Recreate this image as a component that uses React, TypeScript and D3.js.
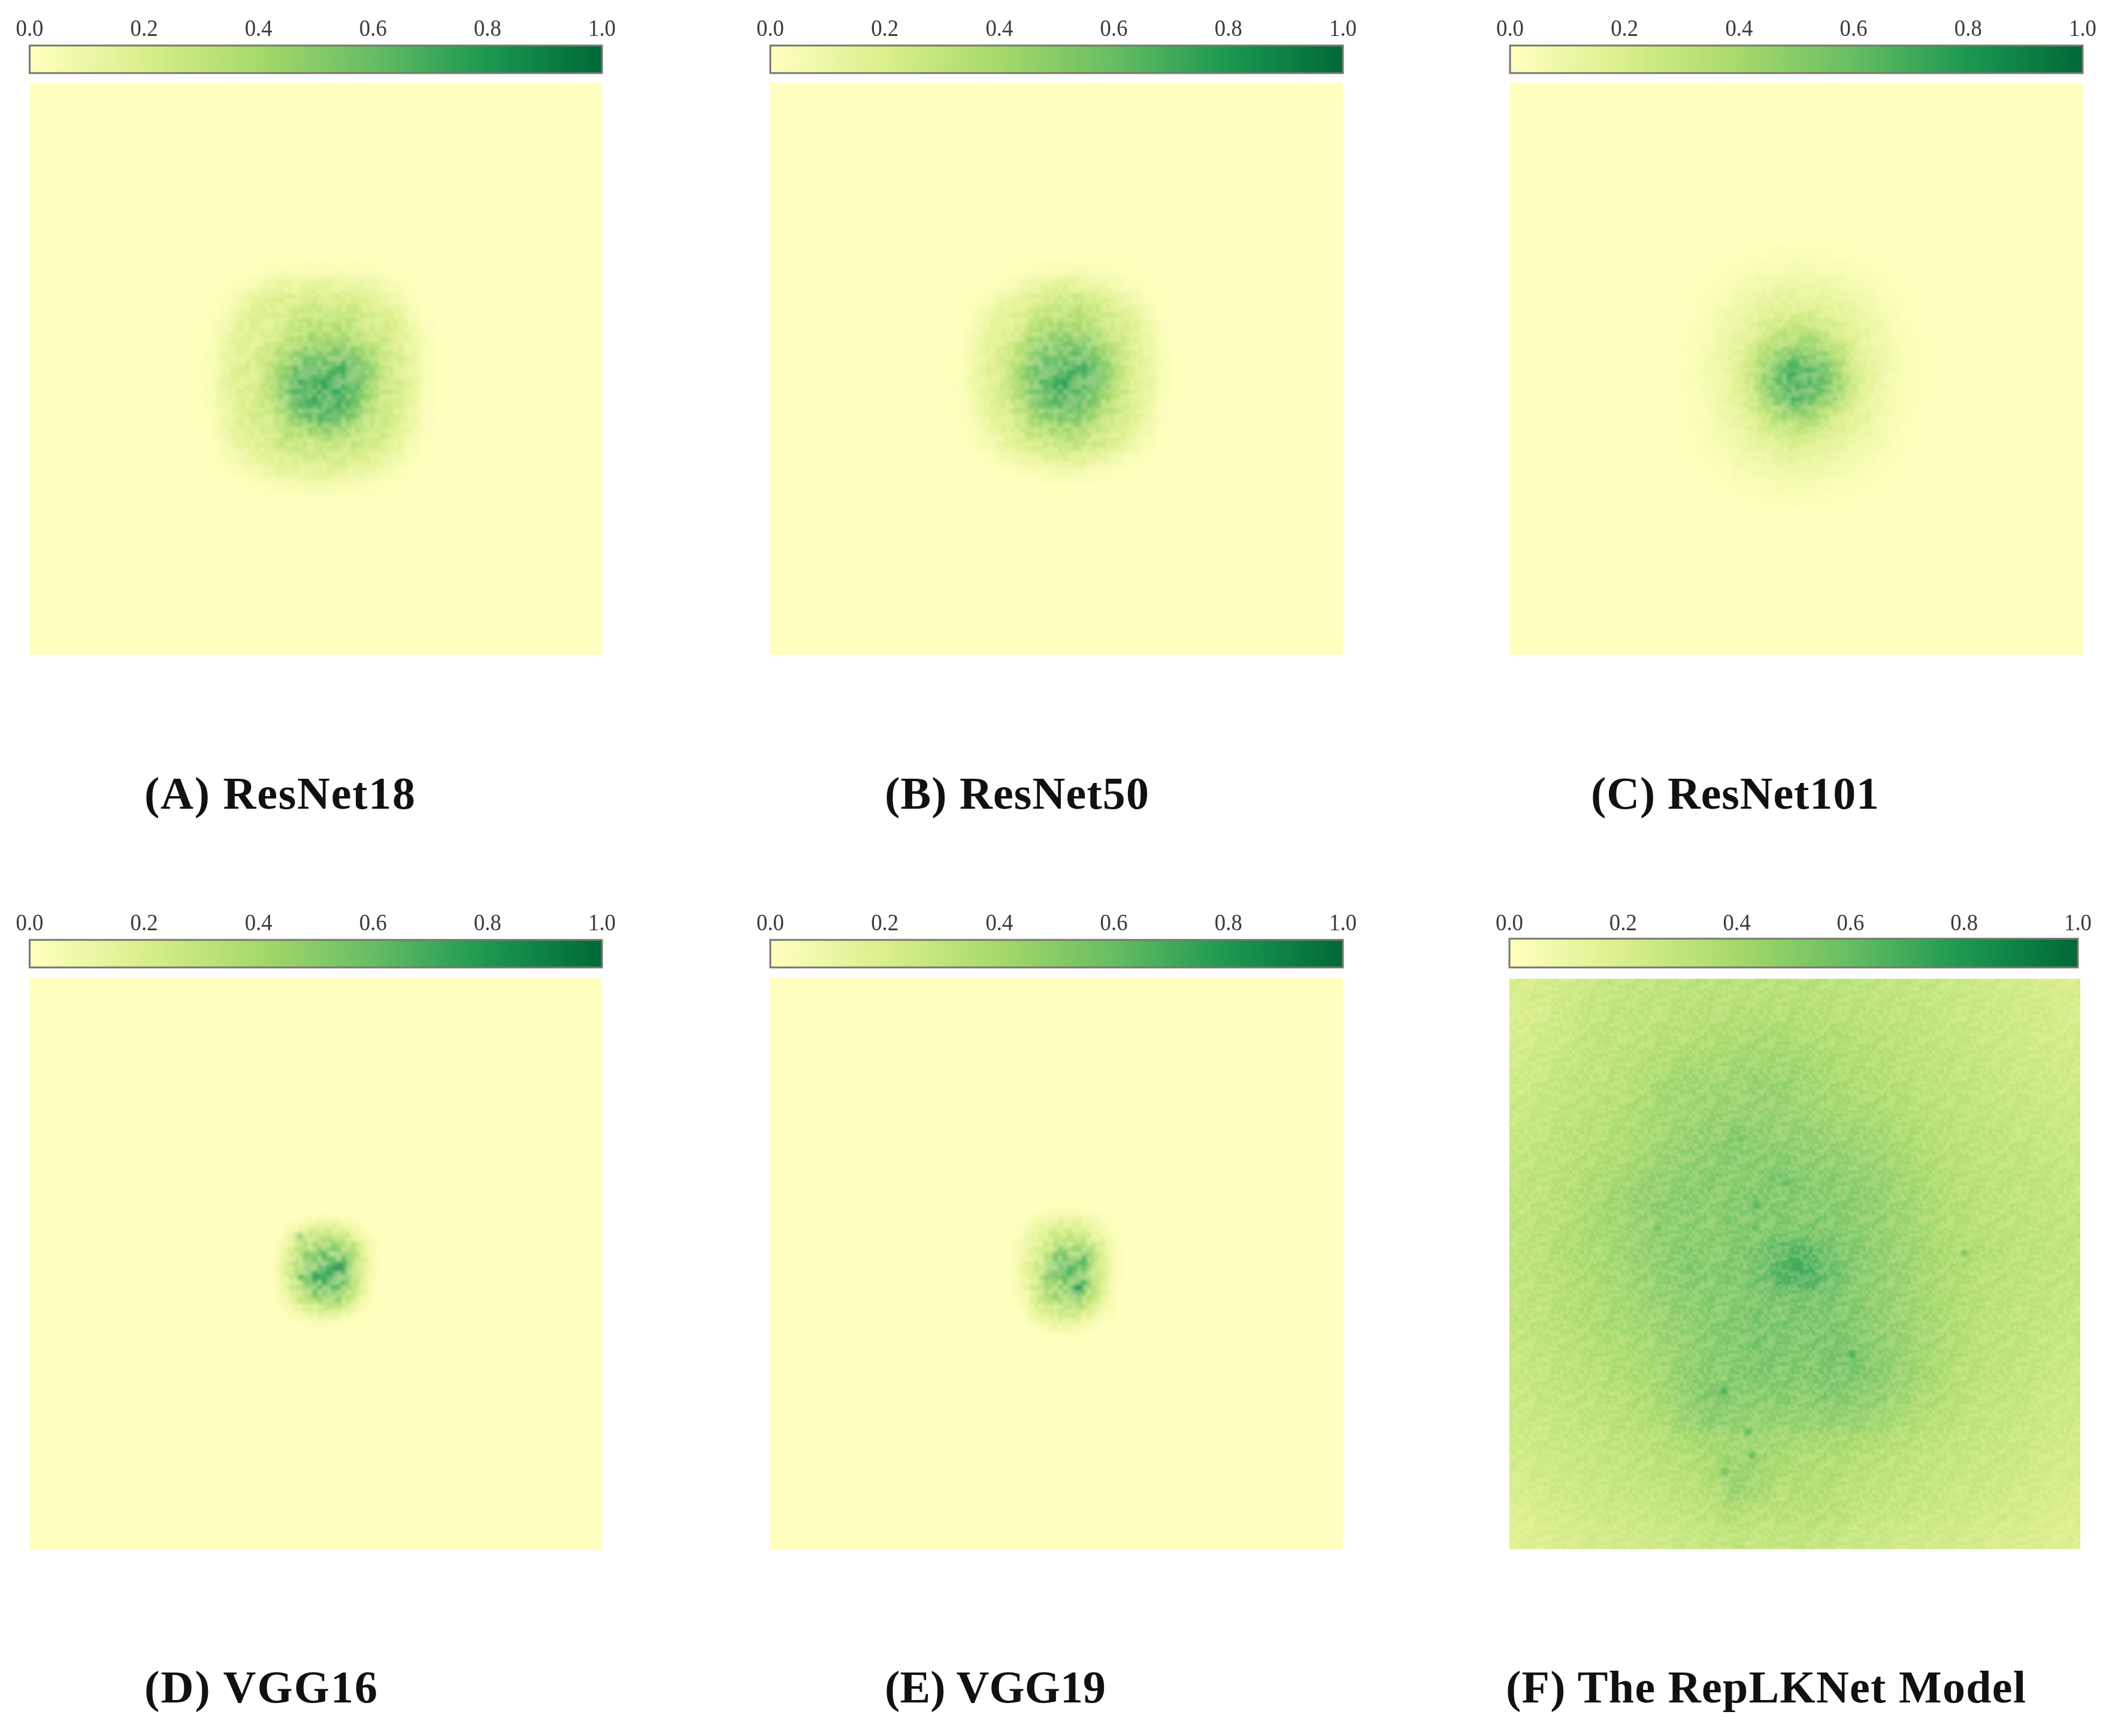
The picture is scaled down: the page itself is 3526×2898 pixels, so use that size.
import React from "react";
import * as d3 from "d3";

// ---------- data (values in percent of the colour scale) ----------
const colorDomain = [0, 0.2, 0.4, 0.6, 0.8, 1];
const colorRange = ["#ffffbf", "#d9ef8b", "#a6d96a", "#66bd63", "#1a9850", "#006837"];
const tickValues = [0, 0.2, 0.4, 0.6, 0.8, 1];

const resNet18 = [
  [0,0,0,1,2,3,3,4,4,3,3,2,1,0,0,0],
  [0,0,2,5,9,11,10,13,12,11,12,9,6,3,1,0],
  [0,2,6,12,15,18,16,20,18,19,17,15,12,7,2,0],
  [1,4,11,16,19,17,22,24,26,22,25,20,18,13,5,1],
  [2,7,14,18,16,22,25,30,28,32,26,23,19,17,8,2],
  [2,9,17,15,21,24,32,38,36,40,34,27,22,16,10,3],
  [3,10,15,19,22,34,42,48,46,50,44,36,25,20,12,3],
  [3,11,18,17,27,38,52,58,54,58,50,42,24,18,12,3],
  [3,12,16,20,28,42,58,54,62,56,54,38,26,21,13,3],
  [3,10,18,18,26,38,54,60,56,62,48,36,22,19,11,3],
  [2,9,15,20,24,34,44,52,60,50,46,30,24,17,10,2],
  [2,8,16,18,22,28,32,38,42,38,30,26,21,16,8,2],
  [1,6,12,16,18,24,26,24,28,24,26,20,18,13,5,1],
  [1,3,7,12,14,17,20,22,20,21,18,16,12,8,3,0],
  [0,1,3,6,9,12,13,15,14,13,11,9,6,3,1,0],
  [0,0,0,1,2,3,4,5,5,4,3,2,1,0,0,0],
];
const resNet50 = [
  [0,0,0,0,1,2,4,5,4,3,2,1,0,0,0],
  [0,0,1,3,6,10,12,14,13,11,8,5,2,0,0],
  [0,1,4,9,13,17,20,22,24,18,16,11,7,2,0],
  [0,3,8,14,17,22,26,28,32,24,22,18,12,5,1],
  [1,5,12,16,20,28,34,36,34,32,26,20,15,8,2],
  [1,7,14,18,26,36,42,46,44,40,32,22,16,10,2],
  [2,8,15,20,30,42,50,48,54,48,38,26,17,11,3],
  [2,9,16,21,34,50,54,60,56,58,42,26,18,12,3],
  [2,9,15,22,36,48,56,62,54,50,40,27,17,11,3],
  [2,8,14,20,32,44,52,56,52,46,34,24,16,10,2],
  [1,6,13,18,26,36,44,50,46,38,30,22,15,8,2],
  [1,4,10,16,22,28,32,34,36,28,24,18,12,6,1],
  [0,2,6,12,16,20,24,26,28,22,19,14,8,3,0],
  [0,0,2,5,9,12,15,17,16,13,10,6,3,1,0],
  [0,0,0,1,2,4,5,6,5,4,2,1,0,0,0],
];
const resNet101 = [
  [0,0,0,0,0,1,1,2,2,2,2,1,1,0,0,0,0,0],
  [0,0,0,1,2,3,4,4,5,5,4,4,3,2,1,0,0,0],
  [0,0,1,2,4,5,7,8,8,9,8,7,5,4,2,1,0,0],
  [0,1,2,4,6,8,10,12,13,12,11,10,8,6,4,2,1,0],
  [0,1,3,6,8,11,14,16,17,18,15,13,11,8,5,3,1,0],
  [0,2,4,7,10,14,19,24,26,24,21,18,13,10,7,3,2,0],
  [1,2,5,8,12,18,24,30,34,36,30,24,16,11,8,4,2,1],
  [1,3,5,9,14,22,34,40,46,42,40,30,20,12,8,5,2,1],
  [1,3,6,9,15,24,38,50,60,54,48,36,22,13,9,5,2,1],
  [1,3,5,9,14,24,40,52,58,60,50,38,24,14,9,5,2,1],
  [1,2,5,8,14,22,36,48,56,50,44,36,20,12,8,4,2,1],
  [1,2,4,8,12,19,28,36,42,40,32,24,16,11,7,4,2,0],
  [0,2,4,6,10,15,20,26,30,28,24,17,13,10,6,3,1,0],
  [0,1,3,5,8,11,15,18,19,18,15,12,10,7,5,2,1,0],
  [0,1,2,4,6,8,10,12,14,12,10,9,7,5,3,2,0,0],
  [0,0,1,2,4,5,7,8,9,9,7,6,5,3,2,1,0,0],
  [0,0,0,1,2,3,4,5,5,5,4,3,2,2,1,0,0,0],
  [0,0,0,0,1,1,2,2,3,2,2,1,1,0,0,0,0,0],
];
const vgg16 = [
  [0,0,0,0,0,1,1,1,1,1,1,0,0,0,0],
  [0,0,0,1,3,5,7,8,8,7,5,3,1,0,0],
  [0,0,2,5,9,14,18,16,20,16,12,8,4,1,0],
  [0,1,4,10,40,24,22,28,24,26,20,15,8,3,0],
  [0,2,7,16,26,28,38,30,42,34,30,24,13,5,1],
  [0,3,10,20,28,42,34,50,38,48,36,28,15,6,1],
  [1,4,12,24,34,38,52,44,56,42,50,26,17,7,1],
  [1,4,13,22,30,50,46,60,52,72,44,32,16,7,1],
  [1,4,12,26,48,40,62,52,58,46,52,30,15,6,1],
  [0,3,10,20,28,46,40,54,46,50,38,26,13,5,1],
  [0,3,8,22,24,32,48,38,50,36,32,22,11,4,0],
  [0,2,6,12,22,26,30,40,34,38,24,15,8,3,0],
  [0,1,3,7,12,18,22,26,28,20,16,9,4,1,0],
  [0,0,1,3,5,8,10,12,11,8,5,3,1,0,0],
  [0,0,0,0,1,2,3,3,3,2,1,0,0,0,0],
];
const vgg19 = [
  [0,0,0,0,1,2,3,3,3,2,1,0,0,0,0],
  [0,0,1,3,5,7,9,10,10,9,7,5,3,1,0],
  [0,1,3,6,10,14,16,15,18,15,12,9,5,2,0],
  [0,2,5,9,14,18,24,20,26,22,18,14,8,3,1],
  [1,3,7,12,18,22,30,26,24,30,24,17,11,5,1],
  [1,4,9,14,18,26,36,44,34,40,38,21,13,6,2],
  [1,5,10,16,22,28,50,42,38,52,44,24,15,7,2],
  [1,5,11,18,26,40,46,54,48,42,46,28,16,7,2],
  [1,5,11,19,24,50,42,46,52,44,38,30,15,7,2],
  [1,5,10,16,28,36,34,44,38,58,44,24,16,6,2],
  [1,4,9,20,22,38,30,40,50,62,34,26,13,6,1],
  [1,3,7,14,26,30,36,30,44,38,28,20,14,5,1],
  [0,2,5,12,18,24,26,34,24,30,22,16,9,4,0],
  [0,1,4,8,14,16,20,22,24,18,15,10,5,2,0],
  [0,0,2,5,8,11,13,14,14,12,8,5,3,1,0],
  [0,0,0,1,3,5,6,7,7,5,3,1,0,0,0],
];
const repLKNet = [
  [20,21,23,25,27,28,29,30,31,31,31,31,32,31,30,29,28,27,26,25,23,22,21,20],
  [19,21,24,27,28,29,30,32,32,33,33,34,33,32,31,30,29,28,26,25,24,23,22,20],
  [20,23,25,28,29,30,32,33,35,35,37,36,35,34,33,32,30,29,27,26,25,23,22,21],
  [22,24,27,28,30,32,34,37,36,39,38,39,38,36,34,33,31,29,28,27,25,24,23,22],
  [23,26,28,29,31,34,38,40,39,40,42,41,39,37,35,34,33,30,29,28,26,25,24,23],
  [25,27,29,31,33,36,38,39,41,41,42,41,40,38,37,36,34,32,30,28,27,26,25,24],
  [26,28,31,32,34,36,39,41,43,46,44,43,43,41,40,38,36,33,31,30,28,27,26,25],
  [27,29,31,33,35,38,41,44,45,47,46,46,45,43,42,40,37,35,32,30,29,28,27,26],
  [28,30,32,35,37,41,43,45,47,45,47,50,47,46,44,42,39,36,33,31,30,29,28,27],
  [28,30,33,36,40,43,45,47,45,48,49,48,47,47,46,43,40,37,34,32,30,29,28,27],
  [29,31,34,37,39,41,44,46,45,49,47,49,49,48,46,43,40,37,34,32,31,30,29,28],
  [29,31,35,36,39,42,45,47,46,48,51,58,58,52,48,44,41,38,35,34,32,30,29,28],
  [29,31,34,36,38,41,44,48,47,49,53,60,62,54,48,44,41,38,35,33,31,30,29,28],
  [28,30,33,35,37,40,43,45,47,47,49,51,51,50,47,44,41,38,35,33,31,29,28,27],
  [28,30,33,35,37,39,41,44,47,49,50,50,50,50,48,44,41,38,35,32,30,29,28,27],
  [27,29,31,33,35,37,40,43,46,48,49,50,49,51,49,45,42,38,35,32,30,29,27,26],
  [26,28,30,32,34,36,39,44,47,47,50,49,48,51,50,46,42,38,34,31,29,28,26,25],
  [25,27,29,30,32,35,38,44,48,47,46,47,46,48,46,43,39,36,33,30,28,27,25,24],
  [24,26,27,29,31,33,36,41,45,44,42,43,42,43,42,39,36,33,31,28,27,26,24,23],
  [23,25,26,27,29,31,33,36,38,38,39,38,37,37,36,34,32,30,28,27,26,25,23,22],
  [21,23,25,26,27,29,31,33,36,41,39,36,35,34,33,31,29,28,27,26,25,24,22,21],
  [20,22,23,25,26,27,29,30,33,40,37,33,34,33,30,29,28,27,25,25,24,22,21,20],
  [18,20,22,23,24,25,26,28,30,34,31,31,32,31,28,27,26,25,24,23,22,21,20,19],
  [17,19,20,21,22,23,24,25,27,28,27,28,28,27,25,25,23,23,22,21,20,20,19,18],
];
// isolated dark specks of panel F: [u, v, percent] in panel fractions
const repLKNetSpecks = [
  [.504,.502,70],[.432,.397,64],[.432,.437,60],[.486,.357,60],[.405,.281,55],[.26,.437,56],
  [.315,.506,56],[.57,.498,58],[.6,.659,68],[.376,.723,68],[.418,.795,60],[.425,.836,60],
  [.377,.864,56],[.349,.727,54],[.797,.481,54],[.435,.643,58],[.435,.59,58],
];
// mottling of the source heatmaps, 0 (weakest) to 9 (strongest), one tile that repeats
const mottleTile = [
  [7,8,3,1,5,9,8,2,4,6,9,3,2,7,8,5,0,4,9,6],
  [6,9,2,0,6,7,3,1,8,9,5,1,4,9,6,2,1,7,8,3],
  [1,4,7,5,2,1,5,8,9,2,0,6,8,3,1,4,9,9,2,0],
  [0,3,9,8,1,4,9,6,3,1,4,9,7,0,5,8,6,3,1,5],
  [8,5,6,2,3,8,7,0,2,7,8,5,1,3,9,7,2,0,6,9],
  [9,7,1,0,9,6,2,4,5,9,3,0,2,8,6,1,4,8,7,3],
  [3,2,4,8,7,1,0,9,8,1,2,7,9,5,0,3,9,5,1,2],
  [2,6,9,5,3,4,8,7,0,3,6,8,4,1,2,7,8,0,3,6],
  [5,8,1,0,2,9,6,1,4,9,7,0,3,6,9,4,1,2,9,8],
  [9,4,3,7,6,5,2,3,8,5,1,2,9,8,5,0,3,7,6,1],
  [7,0,5,9,8,0,1,9,6,0,4,8,6,1,2,8,9,4,0,2],
  [1,2,8,3,1,4,7,8,2,3,9,5,0,3,7,6,2,1,5,8],
  [3,9,6,0,2,9,5,0,1,7,8,1,2,9,4,0,5,9,7,4],
  [6,7,1,4,8,6,3,2,9,5,0,3,7,6,1,3,8,6,0,1],
  [8,2,0,9,5,1,0,7,6,2,4,9,8,0,2,9,7,1,3,5],
  [4,5,3,7,2,3,8,9,1,0,6,7,1,4,8,5,0,2,9,7],
  [0,9,8,1,0,6,9,4,3,8,2,0,5,9,6,1,3,8,4,0],
  [2,6,4,2,7,8,1,0,5,9,3,4,8,2,0,7,9,5,1,3],
  [9,1,0,5,9,3,2,6,8,1,7,9,6,1,3,8,4,0,6,8],
  [5,3,7,8,4,0,6,9,2,0,5,8,0,3,9,6,2,3,7,9],
];
// the tile's rows and columns are read in this order, which breaks up its diagonals
const tileRowOrder = [11,3,17,6,0,14,9,1,19,5,12,8,2,16,7,18,4,13,10,15];
const tileColOrder = [5,16,2,10,18,7,13,0,8,15,3,19,11,6,1,14,9,4,17,12];

const titles = ["(A) ResNet18", "(B) ResNet50", "(C) ResNet101", "(D) VGG16", "(E) VGG19", "(F) The RepLKNet Model"];
const grids = [resNet18, resNet50, resNet101, vgg16, vgg19, repLKNet];

// ---------- layout ----------
const W = 3526, H = 2898;
const panels = [
  { x0: 49.5, x1: 1005, y0: 138, y1: 1093, barX0: 49.5, barX1: 1005, barY0: 76, barY1: 122, labelY: 60, gx: 340, gy: 440, cell: 24, blur: 6.5, grain: 8, floor: 0.62, bleed: 0, titleX: 241, titleY: 1350, titleW: 452 },
  { x0: 1286, x1: 2242, y0: 138, y1: 1093, barX0: 1286, barX1: 2242, barY0: 76, barY1: 122, labelY: 60, gx: 1594, gy: 440, cell: 24, blur: 6.5, grain: 8, floor: 0.62, bleed: 0, titleX: 1477, titleY: 1350, titleW: 441 },
  { x0: 2521, x1: 3477, y0: 138, y1: 1093, barX0: 2521, barX1: 3477, barY0: 76, barY1: 122, labelY: 60, gx: 2792, gy: 412, cell: 24, blur: 6.5, grain: 7, floor: 0.62, bleed: 0, titleX: 2656, titleY: 1350, titleW: 481 },
  { x0: 49.5, x1: 1005, y0: 1633, y1: 2587, barX0: 49.5, barX1: 1005, barY0: 1569, barY1: 1615, labelY: 1553, gx: 442.5, gy: 2020, cell: 13, blur: 4, grain: 8, floor: 0.5, bleed: 0, titleX: 241, titleY: 2842, titleW: 389 },
  { x0: 1286, x1: 2242, y0: 1633, y1: 2587, barX0: 1286, barX1: 2242, barY0: 1569, barY1: 1615, labelY: 1553, gx: 1679.5, gy: 2016, cell: 13, blur: 4, grain: 8, floor: 0.5, bleed: 0, titleX: 1477, titleY: 2842, titleW: 369 },
  { x0: 2520, x1: 3473, y0: 1634, y1: 2586, barX0: 2520, barX1: 3469, barY0: 1567, barY1: 1615, labelY: 1553, gx: 2520, gy: 1634, cell: 953 / 24, blur: 9, grain: 5, floor: 0.72, bleed: 80, titleX: 2514, titleY: 2842, titleW: 868 },
];

const color = d3.scaleLinear<string>().domain(colorDomain).range(colorRange).interpolate(d3.interpolateRgb);
const fmt = d3.format(".1f");
const tileSize = mottleTile.length;
const tileMean = d3.mean(mottleTile.flat())! / 9;

function Heatmap({ p, rows, i }: any) {
  const nC = rows[0].length, nR = rows.length;
  const xB = d3.scaleBand<number>().domain(d3.range(nC)).range([p.gx, p.gx + nC * p.cell]);
  const yB = d3.scaleBand<number>().domain(d3.range(nR)).range([p.gy, p.gy + nR * p.cell]);
  const u = d3.scaleLinear([0, 1], [p.x0, p.x1]);
  const v = d3.scaleLinear([0, 1], [p.y0, p.y1]);
  const level = d3.scaleLinear([0, 9], [p.floor, 1]);
  // the mottling only lightens, so the mean is compensated for
  const gain = 1 / level(tileMean * 9);
  const gx = d3.scaleBand<number>().domain(d3.range(tileSize)).range([0, tileSize * p.grain]);
  const region = { x: p.x0 - 200, y: p.y0 - 200, width: p.x1 - p.x0 + 400, height: p.y1 - p.y0 + 400 };
  return (
    <g>
      <clipPath id={`clip${i}`}><rect x={p.x0} y={p.y0} width={p.x1 - p.x0} height={p.y1 - p.y0} /></clipPath>
      <filter id={`blur${i}`} filterUnits="userSpaceOnUse" {...region} colorInterpolationFilters="sRGB">
        <feGaussianBlur stdDeviation={p.blur} />
      </filter>
      <filter id={`grainBlur${i}`} filterUnits="userSpaceOnUse" {...region} colorInterpolationFilters="sRGB">
        <feGaussianBlur stdDeviation={p.grain * 0.35} />
      </filter>
      <pattern id={`pat${i}`} patternUnits="userSpaceOnUse" x={p.x0} y={p.y0} width={tileSize * p.grain} height={tileSize * p.grain}>
        {tileRowOrder.map((sr, r) => tileColOrder.map((sc, c) => {
          const g = Math.round(level(mottleTile[sr][sc]) * 255);
          return <rect key={`${r}-${c}`} x={gx(c)} y={gx(r)} width={p.grain + 0.5} height={p.grain + 0.5} fill={`rgb(${g},${g},${g})`} />;
        }))}
      </pattern>
      <mask id={`mask${i}`} maskUnits="userSpaceOnUse" {...region} style={{ maskType: "luminance" } as any}>
        <rect {...region} fill={`url(#pat${i})`} filter={`url(#grainBlur${i})`} />
      </mask>
      <g clipPath={`url(#clip${i})`}>
        <rect x={p.x0} y={p.y0} width={p.x1 - p.x0} height={p.y1 - p.y0} fill={color(0)} />
        <g mask={`url(#mask${i})`}>
          <g filter={`url(#blur${i})`}>
            {rows.map((row: number[], r: number) => row.map((val: number, c: number) => {
              if (val === 0) return null;
              const bx = c === 0 ? p.bleed : 0, ex = c === nC - 1 ? p.bleed : 0;
              const by = r === 0 ? p.bleed : 0, ey = r === nR - 1 ? p.bleed : 0;
              return <rect key={`${r}-${c}`} x={xB(c)! - bx} y={yB(r)! - by} width={p.cell + bx + ex + 0.5} height={p.cell + by + ey + 0.5} fill={color((val / 100) * gain)} />;
            }))}
          </g>
        </g>
        {i === 5 && repLKNetSpecks.map(([a, b, val], k) => (
          <circle key={k} cx={u(a)} cy={v(b)} r={k === 0 ? 11 : 6} fill={color(val / 100)} filter="url(#soft)" />
        ))}
      </g>
    </g>
  );
}

function ColorBar({ p, i }: any) {
  const x = d3.scaleLinear([0, 1], [p.barX0, p.barX1]);
  return (
    <g>
      <linearGradient id={`grad${i}`} x1="0" x2="1" y1="0" y2="0">
        {colorDomain.map((d) => <stop key={d} offset={d} stopColor={color(d)} />)}
      </linearGradient>
      <rect x={p.barX0} y={p.barY0} width={p.barX1 - p.barX0} height={p.barY1 - p.barY0} fill={`url(#grad${i})`} stroke="#77776f" strokeWidth={3} />
      {tickValues.map((t) => (
        <text key={t} x={x(t)} y={p.labelY} textAnchor="middle" fontFamily="'Liberation Serif', serif" fontSize={40} fill="#3a3a3a" textLength={46} lengthAdjust="spacingAndGlyphs" filter="url(#textSoft)">{fmt(t)}</text>
      ))}
    </g>
  );
}

export default function App() {
  return (
    <svg width={W} height={H} viewBox={`0 0 ${W} ${H}`} style={{ position: "absolute", left: 0, top: 0, background: "#fff" }}>
      <defs>
        <filter id="soft" x="-150%" y="-150%" width="400%" height="400%" colorInterpolationFilters="sRGB"><feGaussianBlur stdDeviation={2.5} /></filter>
        <filter id="textSoft" x="-20%" y="-20%" width="140%" height="140%"><feGaussianBlur stdDeviation={0.7} /></filter>
      </defs>
      {panels.map((p, i) => (
        <g key={i}>
          <ColorBar p={p} i={i} />
          <Heatmap p={p} rows={grids[i]} i={i} />
          <text x={p.titleX} y={p.titleY} fontFamily="'Liberation Serif', serif" fontWeight={700} fontSize={76} fill="#111" textLength={p.titleW} lengthAdjust="spacing">{titles[i]}</text>
        </g>
      ))}
    </svg>
  );
}
